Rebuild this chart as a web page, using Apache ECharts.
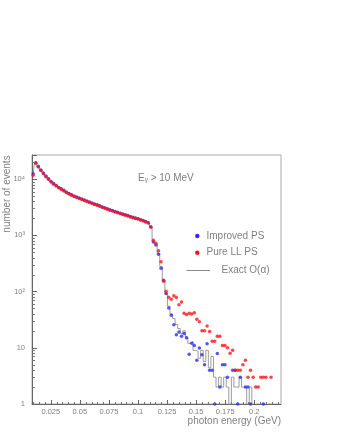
<!DOCTYPE html>
<html><head><meta charset="utf-8">
<script src="https://cdn.jsdelivr.net/npm/echarts@6/dist/echarts.min.js"></script>
<style>html,body{margin:0;padding:0;background:#fff}#c{width:337px;height:436px}</style>
</head><body><div id="c"></div>
<script>
// bin centres (GeV)
const binCenters = [
0.0098,0.0120,0.0142,0.0164,0.0186,0.0208,0.0230,0.0252,0.0274,0.0296,
0.0318,0.0340,0.0362,0.0384,0.0406,0.0428,0.0450,0.0472,0.0494,0.0516,
0.0538,0.0560,0.0582,0.0604,0.0626,0.0648,0.0670,0.0692,0.0714,0.0736,
0.0758,0.0780,0.0802,0.0824,0.0846,0.0868,0.0890,0.0912,0.0934,0.0956,
0.0978,0.1000,0.1022,0.1044,0.1066,0.1088,0.1110,0.1132,0.1154,0.1176,
0.1198,0.1220,0.1242,0.1264,0.1286,0.1308,0.1330,0.1352,0.1374,0.1396,
0.1418,0.1440,0.1462,0.1484,0.1506,0.1528,0.1550,0.1572,0.1594,0.1616,
0.1638,0.1660,0.1682,0.1704,0.1726,0.1748,0.1770,0.1792,0.1814,0.1836,
0.1858,0.1880,0.1902,0.1924,0.1946,0.1968,0.1990,0.2012,0.2034,0.2056,
0.2078,0.2100,0.2122,0.2144,0.2166,0.2188,0.2210];

// Improved PS (blue points)
const improvedPS = [
12400,19600,16900,14500,12800,11300,10100,9100,8300,7700,
7100,6700,6300,5850,5550,5250,5000,4800,4600,4400,
4250,4080,3920,3750,3620,3480,3340,3200,3080,2960,
2850,2760,2660,2560,2480,2400,2320,2240,2160,2090,
2030,1970,1900,1830,1760,1680,1420,760,670,460,
260,158,92,51,38,25.6,17,19,16,18,
15,7.7,12,11,6,9.9,7.5,5,11.8,4,
4,1,7.9,2,5,5,3,null,4,4,
1,3,null,2,2,1,null,null,null,null,
1,null,null,null,null,null,null];

// Pure LL PS (red points)
const pureLLPS = [
11700,19200,16400,14200,12500,11000,9900,8900,8100,7500,
7000,6550,6150,5750,5450,5150,4900,4700,4500,4330,
4150,4000,3840,3690,3540,3420,3270,3140,3020,2910,
2800,2700,2600,2510,2430,2350,2280,2200,2120,2060,
2000,1940,1870,1790,1730,1650,1390,820,720,530,
340,153,101,79,73,84,78,58,65,41,
39,41,40,42,32,29,20,20,24.5,19.5,
13,13,16,16,11,11,10,8,9,4,
4,4,5,6,3,4,3,2,2,3,
3,3,null,3,null,null,null];

// Exact O(alpha) (grey histogram)
const exactOalpha = [
12100,19400,16700,14400,12700,11200,10000,9000,8200,7600,
7050,6620,6220,5800,5500,5200,4950,4750,4550,4370,
4200,4040,3880,3720,3580,3450,3300,3170,3050,2930,
2820,2730,2630,2530,2450,2370,2300,2220,2140,2080,
2010,1950,1880,1810,1740,1660,1400,790,690,480,
280,160,90,55,40,33,26,22,18,20,
15,12,13,9,8.6,6.5,9,5.7,9,4.4,
7,3,2,3,2,3,2,0,3,2,
2,3,2,2,0,2,0,0,0,0,
0,0,0,0,0,0,0];

const xTickLabels = [0.025,0.05,0.075,0.1,0.125,0.15,0.175,0.2];
const xMinorTicks = [0.01,0.015,0.02,0.03,0.035,0.04,0.045,0.055,0.06,0.065,0.07,0.08,0.085,0.09,0.095,
  0.105,0.11,0.115,0.12,0.13,0.135,0.14,0.145,0.155,0.16,0.165,0.17,0.18,0.185,0.19,0.195,0.205,0.21,0.215,0.22];
const yTickLabels = {1:'1',10:'10',100:'10²',1000:'10³',10000:'10⁴'};
const yMinorTicks = [2,3,4,5,6,7,8,9,20,30,40,50,60,70,80,90,200,300,400,500,600,700,800,900,
  2000,3000,4000,5000,6000,7000,8000,9000,20000];

const X_MIN = 0.0088, X_MAX = 0.223, Y_MIN = 1, Y_MAX = 26800;
const FONT = "'Liberation Sans','DejaVu Sans',sans-serif";
const TXT = '#808080';

const pairs = arr => binCenters.map((x,i)=>[x, arr[i]]).filter(p=>p[1]!==null);
const histData = binCenters.map((x,i)=>[x, exactOalpha[i] > 0 ? exactOalpha[i] : 0.3]);

const chart = echarts.init(document.getElementById('c'), null, {renderer:'canvas'});
chart.setOption({
  animation:false,
  backgroundColor:'#fff',
  grid:{left:32,right:56,top:155,bottom:32,show:true,borderColor:'#aaa',borderWidth:1,backgroundColor:'transparent'},
  xAxis:{type:'value',min:X_MIN,max:X_MAX,
    axisLine:{show:true,onZero:false,lineStyle:{color:'#666',width:1}},
    axisTick:{show:true,inside:true,length:4,customValues:xTickLabels,lineStyle:{color:'#666'}},
    axisLabel:{customValues:xTickLabels,formatter:v=>String(+(+v).toFixed(3)),fontSize:7.5,color:TXT,margin:4,fontFamily:FONT},
    splitLine:{show:false}},
  yAxis:{type:'log',logBase:10,min:Y_MIN,max:Y_MAX,
    axisLine:{show:true,lineStyle:{color:'#666',width:1}},
    axisTick:{show:true,inside:true,length:5,lineStyle:{color:'#666'}},
    axisLabel:{formatter:v=>{const k=Math.round(Math.log10(v));const p=Math.pow(10,k);return Math.abs(v-p)/p<1e-6&&yTickLabels[p]?yTickLabels[p]:'';},
      fontSize:7.5,color:TXT,margin:7,fontFamily:FONT},
    splitLine:{show:false}},
  series:[
    {type:'line',name:'Exact O(α)',data:histData,step:'middle',symbol:'none',clip:true,z:2,
      lineStyle:{color:'#9c9c9c',width:1}},
    {type:'scatter',name:'Improved PS',data:pairs(improvedPS),symbol:'circle',symbolSize:3.5,z:3,
      itemStyle:{color:'#2a2aff'}},
    {type:'scatter',name:'Pure LL PS',data:pairs(pureLLPS),symbol:'circle',symbolSize:3.5,z:4,
      itemStyle:{color:'#ff1414'}},
    {type:'custom',name:'yminor',silent:true,clip:false,z:5,encode:{x:0,y:1},
      data:yMinorTicks.map(v=>[X_MIN,v]),
      renderItem:(params,api)=>{const p=api.coord([api.value(0),api.value(1)]);const y=Math.round(p[1])+0.5;
        return {type:'line',shape:{x1:p[0],y1:y,x2:p[0]+3,y2:y},style:{stroke:'#777',lineWidth:1}};}},
    {type:'custom',name:'xminor',silent:true,clip:false,z:5,encode:{x:0,y:1},
      data:xMinorTicks.map(v=>[v,Y_MIN]),
      renderItem:(params,api)=>{const p=api.coord([api.value(0),api.value(1)]);const x=Math.round(p[0])+0.5;
        return {type:'line',shape:{x1:x,y1:p[1],x2:x,y2:p[1]-2},style:{stroke:'#777',lineWidth:1}};}}
  ],
  graphic:[
    {type:'text',left:'auto',x:7.5,y:194,rotation:Math.PI/2,style:{text:'number of events',fill:TXT,font:'10px '+FONT,align:'center',verticalAlign:'middle'}},
    {type:'text',x:281,y:421,style:{text:'photon energy (GeV)',fill:TXT,font:'10px '+FONT,align:'right',verticalAlign:'middle'}},
    {type:'text',x:138,y:178,style:{text:'Eᵧ > 10 MeV',fill:TXT,font:'10px '+FONT,align:'left',verticalAlign:'middle'}},
    {type:'circle',shape:{cx:197.3,cy:236,r:2.2},style:{fill:'#2a2aff'}},
    {type:'text',x:206.5,y:236,style:{text:'Improved PS',fill:TXT,font:'10px '+FONT,align:'left',verticalAlign:'middle'}},
    {type:'circle',shape:{cx:197.3,cy:252.7,r:2.2},style:{fill:'#ff1414'}},
    {type:'text',x:206.5,y:252.7,style:{text:'Pure LL PS',fill:TXT,font:'10px '+FONT,align:'left',verticalAlign:'middle'}},
    {type:'line',shape:{x1:186.5,y1:270.5,x2:210,y2:270.5},style:{stroke:'#888',lineWidth:1}},
    {type:'text',x:221.5,y:270,style:{text:'Exact O(α)',fill:TXT,font:'10px '+FONT,align:'left',verticalAlign:'middle'}}
  ]
});
</script></body></html>
